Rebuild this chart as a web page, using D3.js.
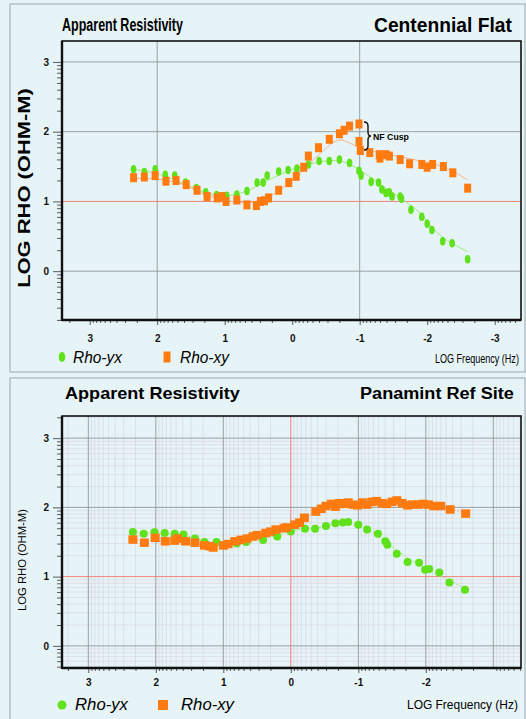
<!DOCTYPE html>
<html><head><meta charset="utf-8">
<script src="https://cdn.jsdelivr.net/npm/d3@7"></script>
<style>body{margin:0;background:#e7f4f7}svg{display:block}</style>
</head><body><svg id="c" width="526" height="719"></svg>
<script>
// ---------- data (log10 frequency, log10 rho) ----------
const xTickVals1 = [3,2,1,0,-1,-2,-3];
const xTickVals2 = [3,2,1,0,-1,-2];
const yTickVals = [0,1,2,3];

// Centennial Flat
const cfRhoYX = [[2.35,1.46],[2.19,1.42],[2.03,1.46],[1.88,1.38],[1.74,1.37],[1.58,1.27],[1.42,1.19],[1.28,1.13],[1.12,1.09],[0.97,1.08],[0.82,1.10],[0.67,1.15],[0.52,1.27],[0.43,1.27],[0.37,1.37],[0.20,1.43],[0.06,1.45],[-0.07,1.47],[-0.24,1.53],[-0.40,1.58],[-0.55,1.58],[-0.70,1.60],[-0.85,1.55],[-0.99,1.44],[-1.02,1.37],[-1.17,1.28],[-1.28,1.27],[-1.33,1.17],[-1.39,1.12],[-1.44,1.13],[-1.48,1.07],[-1.60,1.07],[-1.62,1.04],[-1.76,0.88],[-1.92,0.78],[-2.00,0.68],[-2.07,0.59],[-2.23,0.43],[-2.37,0.40],[-2.60,0.17]];
const cfRhoXY = [[2.35,1.34],[2.19,1.35],[2.03,1.37],[1.87,1.29],[1.72,1.30],[1.57,1.24],[1.41,1.16],[1.26,1.07],[1.11,1.05],[1.04,1.07],[0.98,1.00],[0.82,1.02],[0.67,0.95],[0.53,0.94],[0.47,1.00],[0.41,1.01],[0.35,1.05],[0.20,1.16],[0.05,1.27],[-0.06,1.36],[-0.17,1.49],[-0.24,1.65],[-0.39,1.77],[-0.55,1.89],[-0.70,1.97],[-0.77,2.02],[-0.85,2.08],[-0.99,2.11],[-0.99,1.86],[-1.01,1.73],[-1.15,1.70],[-1.29,1.67],[-1.30,1.62],[-1.39,1.67],[-1.44,1.65],[-1.60,1.60],[-1.74,1.54],[-1.92,1.53],[-2.00,1.49],[-2.08,1.53],[-2.24,1.50],[-2.38,1.41],[-2.60,1.19]];
const cfFitYX = [[2.36,1.46],[2.0,1.40],[1.6,1.25],[1.3,1.13],[1.0,1.08],[0.7,1.14],[0.4,1.28],[0.1,1.42],[-0.2,1.52],[-0.5,1.58],[-0.75,1.57],[-1.0,1.45],[-1.3,1.25],[-1.6,1.05],[-1.9,0.83],[-2.1,0.60],[-2.3,0.44],[-2.6,0.28]];
const cfFitXY = [[2.36,1.33],[2.0,1.32],[1.6,1.24],[1.3,1.10],[1.0,1.02],[0.7,0.98],[0.4,1.04],[0.1,1.22],[-0.2,1.48],[-0.45,1.72],[-0.70,1.88],[-1.0,1.77],[-1.3,1.70],[-1.8,1.60],[-2.05,1.55],[-2.3,1.47],[-2.6,1.31]];

// Panamint Ref Site
const prRhoYX = [[2.34,1.645],[2.18,1.62],[2.02,1.64],[1.87,1.63],[1.72,1.62],[1.59,1.61],[1.42,1.55],[1.28,1.50],[1.10,1.50],[0.95,1.47],[0.80,1.48],[0.66,1.50],[0.41,1.53],[0.20,1.58],[0.0,1.65],[-0.21,1.69],[-0.36,1.69],[-0.52,1.73],[-0.66,1.77],[-0.77,1.78],[-0.85,1.79],[-1.00,1.75],[-1.13,1.68],[-1.29,1.62],[-1.40,1.51],[-1.43,1.46],[-1.57,1.33],[-1.73,1.21],[-1.90,1.20],[-1.99,1.10],[-2.05,1.11],[-2.20,1.06],[-2.35,0.915],[-2.58,0.81]];
const prRhoXY = [[2.34,1.535],[2.17,1.49],[2.01,1.56],[1.86,1.51],[1.72,1.52],[1.68,1.55],[1.56,1.51],[1.42,1.49],[1.28,1.45],[1.20,1.44],[1.15,1.42],[1.00,1.45],[0.93,1.47],[0.83,1.51],[0.74,1.53],[0.65,1.55],[0.56,1.58],[0.50,1.60],[0.37,1.63],[0.30,1.65],[0.22,1.68],[0.10,1.70],[0.06,1.71],[-0.06,1.75],[-0.13,1.78],[-0.20,1.85],[-0.37,1.94],[-0.45,1.98],[-0.52,2.02],[-0.60,2.05],[-0.66,2.01],[-0.72,2.06],[-0.78,2.05],[-0.85,2.07],[-0.92,2.04],[-0.99,2.03],[-1.06,2.07],[-1.13,2.04],[-1.20,2.08],[-1.27,2.09],[-1.35,2.06],[-1.42,2.05],[-1.50,2.08],[-1.57,2.10],[-1.65,2.06],[-1.73,2.03],[-1.80,2.04],[-1.89,2.04],[-1.96,2.05],[-2.04,2.04],[-2.12,2.02],[-2.22,2.02],[-2.36,1.97],[-2.59,1.91]];
const prFitYX = [[2.34,1.64],[2.0,1.63],[1.6,1.60],[1.2,1.50],[0.8,1.48],[0.4,1.55],[0.0,1.66],[-0.4,1.71],[-0.8,1.77],[-1.1,1.70],[-1.4,1.50],[-1.8,1.23],[-2.2,1.02],[-2.6,0.82]];
const prFitXY = [[2.34,1.53],[2.0,1.52],[1.6,1.50],[1.2,1.44],[0.9,1.47],[0.5,1.58],[0.1,1.70],[-0.2,1.84],[-0.5,1.98],[-0.9,2.04],[-1.5,2.07],[-2.0,2.04],[-2.3,1.99],[-2.6,1.92]];

// ---------- drawing ----------
const GREEN = "#5fe11c", ORANGE = "#ff7b10";
const F = "Liberation Sans, Arial, sans-serif";
const svg = d3.select("#c");
svg.append("rect").attr("width",526).attr("height",719).attr("fill","#e7f4f7");

function minors(lo, hi){
  const out=[];
  for(let n=Math.floor(lo)-1;n<=Math.ceil(hi);n++)
    for(let k=2;k<=9;k++){const v=n+Math.log10(k); if(v>lo && v<hi) out.push(v);}
  return out;
}
const fmt = d => String(d);

// text squeezed horizontally to a target width with a scale transform
function fitText(parent, str, x, y, size, width, opts={}){
  const wrap = parent.append("g");
  const t = wrap.append("text").attr("font-family",F).attr("font-size",size)
    .attr("font-weight",opts.weight||"normal").attr("font-style",opts.style||"normal").text(str);
  const w = t.node().getComputedTextLength();
  const s = width / w;
  if(opts.rotate){
    t.attr("text-anchor","middle");
    wrap.attr("transform",`translate(${x},${y}) rotate(-90) scale(${s},1)`);
  } else {
    wrap.attr("transform",`translate(${x},${y}) scale(${s},1)`);
  }
  return wrap;
}

function drawPanel(o){
  const g = svg.append("g");
  g.append("rect").attr("x",o.box[0]).attr("y",o.box[1]).attr("width",o.box[2]).attr("height",o.box[3])
    .attr("fill","#e7f4f7").attr("stroke","#a9b3b8").attr("stroke-width",1.2);
  const x = d3.scaleLinear().domain(o.xDom).range([o.L,o.R]);
  const y = d3.scaleLinear().domain(o.yDom).range([o.B,o.T]);

  // grid
  const grid = g.append("g");
  if(o.fullGrid){
    minors(o.xDom[1],o.xDom[0]).forEach(v=>grid.append("line").attr("x1",x(v)).attr("x2",x(v)).attr("y1",o.T).attr("y2",o.B).attr("stroke","#d3d7e2").attr("stroke-width",0.7));
    minors(o.yDom[0],o.yDom[1]).forEach(v=>grid.append("line").attr("y1",y(v)).attr("y2",y(v)).attr("x1",o.L).attr("x2",o.R).attr("stroke","#dad5e2").attr("stroke-width",0.7));
  }
  o.vGrid.forEach(v=>grid.append("line").attr("x1",x(v)).attr("x2",x(v)).attr("y1",o.T).attr("y2",o.B)
     .attr("stroke",v===0&&o.fullGrid?"#f07070":"#8f9699").attr("stroke-width",0.9));
  yTickVals.forEach(v=>grid.append("line").attr("y1",y(v)).attr("y2",y(v)).attr("x1",o.L).attr("x2",o.R)
     .attr("stroke",v===1?"#f07a6a":"#8f9699").attr("stroke-width",0.9));

  // axes
  const ax = g.append("g").attr("transform",`translate(${o.L},0)`);
  ax.call(d3.axisLeft(y).tickValues(minors(o.yDom[0],o.yDom[1])).tickSize(5).tickFormat(""));
  ax.select(".domain").remove();
  const axM = g.append("g").attr("transform",`translate(${o.L},0)`)
    .call(d3.axisLeft(y).tickValues(yTickVals).tickSize(9).tickPadding(4).tickFormat(fmt));
  axM.select(".domain").remove();
  const bx = g.append("g").attr("transform",`translate(0,${o.B})`)
    .call(d3.axisBottom(x).tickValues(minors(o.xDom[1],o.xDom[0])).tickSize(3).tickFormat(""));
  bx.select(".domain").remove();
  const bxM = g.append("g").attr("transform",`translate(0,${o.B})`)
    .call(d3.axisBottom(x).tickValues(o.xTicks).tickSize(5).tickPadding(o.xPad).tickFormat(fmt));
  bxM.select(".domain").remove();
  g.selectAll(".tick line").attr("stroke","#333").attr("stroke-width",0.8);
  g.selectAll(".tick text").attr("font-family",F).attr("font-weight","bold")
    .attr("font-size",10).attr("fill","#111");

  // frame
  g.append("rect").attr("x",o.L).attr("y",o.T).attr("width",o.R-o.L).attr("height",o.B-o.T)
    .attr("fill","none").attr("stroke","#111").attr("stroke-width",1.6);
  g.append("line").attr("x1",o.L).attr("x2",o.L).attr("y1",o.T).attr("y2",o.B+1).attr("stroke","#111").attr("stroke-width",2.4);
  g.append("line").attr("x1",o.L).attr("x2",o.R).attr("y1",o.B).attr("y2",o.B).attr("stroke","#111").attr("stroke-width",2.6);

  // fit lines
  const line = d3.line().x(d=>x(d[0])).y(d=>y(d[1])).curve(d3.curveCatmullRom);
  g.append("path").attr("d",line(o.fitYX)).attr("fill","none").attr("stroke","#9fe87a").attr("stroke-width",1)
    .attr("stroke-dasharray",o.dash||null);
  g.append("path").attr("d",line(o.fitXY)).attr("fill","none").attr("stroke","#f7b08a").attr("stroke-width",1)
    .attr("stroke-dasharray",o.dash||null);

  // points
  g.append("g").selectAll("ellipse").data(o.yx).join("ellipse")
    .attr("cx",d=>x(d[0])).attr("cy",d=>y(d[1])).attr("rx",o.gR[0]).attr("ry",o.gR[1]).attr("fill",GREEN);
  g.append("g").selectAll("rect").data(o.xy).join("rect")
    .attr("x",d=>x(d[0])-o.oS[0]/2).attr("y",d=>y(d[1])-o.oS[1]/2).attr("width",o.oS[0]).attr("height",o.oS[1]).attr("fill",ORANGE);

  // titles
  fitText(g,"Apparent Resistivity",o.t1[0],o.t1[1],o.t1[2],o.t1[3],{weight:"bold"});
  fitText(g,o.site,o.t2[0],o.t2[1],o.t2[2],o.t2[3],{weight:"bold"});
  fitText(g,"LOG RHO (OHM-M)",o.yt[0],o.yt[1],o.yt[2],o.yt[3],{weight:o.yt[4],rotate:true});
  fitText(g,"LOG Frequency (Hz)",o.xt[0],o.xt[1],o.xt[2],o.xt[3]);

  // legend
  const lg = o.leg;
  g.append("ellipse").attr("cx",lg.gx).attr("cy",lg.cy).attr("rx",lg.gr[0]).attr("ry",lg.gr[1]).attr("fill",GREEN);
  fitText(g,"Rho-yx",lg.tx1,lg.by,lg.fs,lg.tw,{style:"italic"});
  g.append("rect").attr("x",lg.ox-lg.os[0]/2).attr("y",lg.cy-lg.os[1]/2).attr("width",lg.os[0]).attr("height",lg.os[1]).attr("fill",ORANGE);
  fitText(g,"Rho-xy",lg.tx2,lg.by,lg.fs,lg.tw,{style:"italic"});
  return {g,x,y};
}

const p1 = drawPanel({
  box:[10,4,515,368], L:62, R:521, T:41, B:320, xDom:[3.41,-3.39], yDom:[-0.70,3.30],
  xTicks:xTickVals1, xPad:10, vGrid:[2,-1], fullGrid:false,
  yx:cfRhoYX, xy:cfRhoXY, fitYX:cfFitYX, fitXY:cfFitXY, gR:[2.8,4.3], oS:[7,9],
  site:"Centennial Flat",
  t1:[62,31,19,121], t2:[374,32,20,138], yt:[30,188,17,200,"bold"], xt:[435,363,13,84],
  leg:{gx:62,cy:357,gr:[3.3,5],tx1:73,tx2:180,by:363,fs:17,tw:49,ox:167,os:[7,11]}
});
// NF Cusp annotation
p1.g.append("path").attr("d","M364,122 q4,0 4,4 v6 q0,4 3,4 q-3,0 -3,4 v6 q0,4 -4,4")
  .attr("fill","none").attr("stroke","#111").attr("stroke-width",1.4);
fitText(p1.g,"NF Cusp",373,140,9.5,36,{weight:"bold"});

drawPanel({
  box:[10,378,515,345], L:62, R:521, T:416, B:668, xDom:[3.39,-3.41], yDom:[-0.32,3.32],
  xTicks:xTickVals2, xPad:6, vGrid:[3,2,1,0,-1,-2,-3], fullGrid:true, dash:"2,1.5",
  yx:prRhoYX, xy:prRhoXY, fitYX:prFitYX, fitXY:prFitXY, gR:[4,4], oS:[9,8.5],
  site:"Panamint Ref Site",
  t1:[65,399,17,175], t2:[360,399,17,154], yt:[26,560,11,102,"normal"], xt:[407,709,13,111],
  leg:{gx:62,cy:705,gr:[4.5,4.5],tx1:75,tx2:181,by:710,fs:17,tw:53,ox:163,os:[10,10]}
});
</script></body></html>
